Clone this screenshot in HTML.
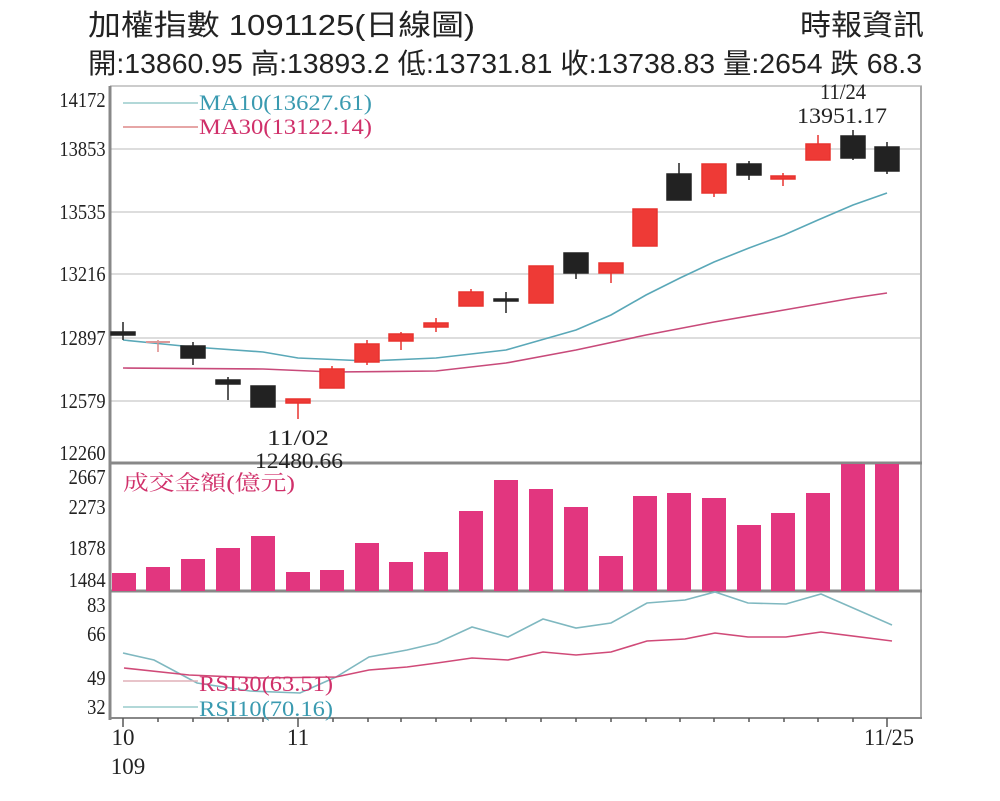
<!DOCTYPE html>
<html><head><meta charset="utf-8"><style>
body{margin:0;background:#fff}
svg{display:block}
</style></head><body>
<svg width="1000" height="801" viewBox="0 0 1000 801" xmlns="http://www.w3.org/2000/svg" font-family="'Liberation Serif','Noto Serif CJK SC',serif">
<rect width="1000" height="801" fill="#fff"/>
<g font-family="'Liberation Sans','Noto Sans CJK TC',sans-serif" fill="#222">
<text x="88" y="35" font-size="29" textLength="387" lengthAdjust="spacingAndGlyphs">加權指數 1091125(日線圖)</text>
<text x="800" y="35" font-size="29" textLength="124" lengthAdjust="spacingAndGlyphs">時報資訊</text>
<text x="88" y="73" font-size="28" textLength="834" lengthAdjust="spacingAndGlyphs">開:13860.95 高:13893.2 低:13731.81 收:13738.83 量:2654 跌 68.3</text>
</g>
<!-- grid -->
<g stroke="#ddd" stroke-width="2">
<line x1="110" y1="149" x2="920" y2="149"/>
<line x1="110" y1="212" x2="920" y2="212"/>
<line x1="110" y1="274" x2="920" y2="274"/>
<line x1="110" y1="338" x2="920" y2="338"/>
<line x1="110" y1="401" x2="920" y2="401"/>
</g>
<line x1="110" y1="86" x2="922" y2="86" stroke="#ccc" stroke-width="2"/>
<line x1="921" y1="86" x2="921" y2="718" stroke="#aaa" stroke-width="2"/>
<line x1="110" y1="463" x2="922" y2="463" stroke="#888" stroke-width="3"/>
<line x1="110" y1="591" x2="922" y2="591" stroke="#888" stroke-width="3"/>
<line x1="110" y1="718" x2="922" y2="718" stroke="#888" stroke-width="2"/>
<line x1="110" y1="86" x2="110" y2="720" stroke="#888" stroke-width="3"/>
<!-- y labels -->
<g font-size="21" fill="#222" text-anchor="end" font-family="'Liberation Serif',serif" transform="scale(0.88,1)">
<text x="120" y="107">14172</text><text x="120" y="156">13853</text><text x="120" y="219">13535</text>
<text x="120" y="281">13216</text><text x="120" y="345">12897</text><text x="120" y="408">12579</text>
<text x="120" y="460">12260</text>
<text x="120" y="484">2667</text><text x="120" y="514">2273</text><text x="120" y="555">1878</text><text x="120" y="587">1484</text>
<text x="120" y="612">83</text><text x="120" y="641">66</text><text x="120" y="685">49</text><text x="120" y="714">32</text>
</g>
<!-- legend -->
<line x1="123" y1="103" x2="198" y2="103" stroke="#9cc" stroke-width="1.5"/>
<text x="199" y="110" font-size="22" fill="#3a9ab0" textLength="173" lengthAdjust="spacingAndGlyphs">MA10(13627.61)</text>
<line x1="123" y1="127" x2="198" y2="127" stroke="#d88" stroke-width="1.5"/>
<text x="199" y="134" font-size="22" fill="#d0306a" textLength="173" lengthAdjust="spacingAndGlyphs">MA30(13122.14)</text>
<!-- MA lines -->
<polyline fill="none" stroke="#5aa8b8" stroke-width="1.6" points="123,340 193,347 263,352 298,358 368,361 436,358 506,350 576,330 611,315 646,295 680,278 714,262 749,248 784,235 818,220 853,205 887,193"/>
<polyline fill="none" stroke="#c84a7a" stroke-width="1.6" points="123,368 263,369 333,372 436,371 506,363 576,350 646,335 714,322 784,310 853,298 887,293"/>
<!-- candles -->
<g stroke-width="1.5">
<g stroke="#222" fill="#222">
<line x1="123" y1="322" x2="123" y2="340"/><rect x="111" y="332" width="24" height="3"/>
<line x1="193" y1="342" x2="193" y2="365"/><rect x="181" y="346" width="24" height="12"/>
<line x1="228" y1="377" x2="228" y2="400"/><rect x="216" y="380" width="24" height="4"/>
<rect x="251" y="386" width="24" height="21"/>
<line x1="506" y1="292" x2="506" y2="313"/><rect x="494" y="299" width="24" height="2"/>
<line x1="576" y1="253" x2="576" y2="279"/><rect x="564" y="253" width="24" height="20"/>
<line x1="679" y1="163" x2="679" y2="200"/><rect x="667" y="174" width="24" height="26"/>
<line x1="749" y1="161" x2="749" y2="180"/><rect x="737" y="164" width="24" height="11"/>
<line x1="853" y1="130" x2="853" y2="160"/><rect x="841" y="136" width="24" height="22"/>
<line x1="887" y1="142" x2="887" y2="174"/><rect x="875" y="147" width="24" height="24"/>
</g>
<g stroke="#e8332f" fill="#ee3a36">
<line x1="158" y1="340" x2="158" y2="352" stroke="#d88"/><rect x="146" y="341" width="24" height="2" fill="#d99" stroke="none"/>
<line x1="298" y1="399" x2="298" y2="419"/><rect x="286" y="399" width="24" height="4"/>
<line x1="332" y1="366" x2="332" y2="388"/><rect x="320" y="369" width="24" height="19"/>
<line x1="367" y1="340" x2="367" y2="365"/><rect x="355" y="344" width="24" height="18"/>
<line x1="401" y1="332" x2="401" y2="350"/><rect x="389" y="334" width="24" height="7"/>
<line x1="436" y1="318" x2="436" y2="332"/><rect x="424" y="323" width="24" height="4"/>
<line x1="471" y1="289" x2="471" y2="306"/><rect x="459" y="292" width="24" height="14"/>
<rect x="529" y="266" width="24" height="37"/>
<line x1="611" y1="263" x2="611" y2="283"/><rect x="599" y="263" width="24" height="10"/>
<rect x="633" y="209" width="24" height="37"/>
<line x1="714" y1="164" x2="714" y2="197"/><rect x="702" y="164" width="24" height="29"/>
<line x1="783" y1="173" x2="783" y2="186"/><rect x="771" y="176" width="24" height="3"/>
<line x1="818" y1="135" x2="818" y2="160"/><rect x="806" y="144" width="24" height="16"/>
</g>
</g>
<g font-size="22" fill="#222" text-anchor="middle">
<text x="298" y="445" textLength="62" lengthAdjust="spacingAndGlyphs">11/02</text><text x="299" y="468" textLength="88" lengthAdjust="spacingAndGlyphs">12480.66</text>
<text x="843" y="99" textLength="46" lengthAdjust="spacingAndGlyphs">11/24</text><text x="842" y="123" textLength="90" lengthAdjust="spacingAndGlyphs">13951.17</text>
</g>
<!-- volume -->
<text x="123" y="490" font-size="21" fill="#d0306a" font-family="'Liberation Serif','Noto Serif CJK TC',serif" textLength="172" lengthAdjust="spacingAndGlyphs">成交金額(億元)</text>
<g fill="#e2367f">
<rect x="112" y="573" width="24" height="18"/><rect x="146" y="567" width="24" height="24"/><rect x="181" y="559" width="24" height="32"/>
<rect x="216" y="548" width="24" height="43"/><rect x="251" y="536" width="24" height="55"/><rect x="286" y="572" width="24" height="19"/>
<rect x="320" y="570" width="24" height="21"/><rect x="355" y="543" width="24" height="48"/><rect x="389" y="562" width="24" height="29"/>
<rect x="424" y="552" width="24" height="39"/><rect x="459" y="511" width="24" height="80"/><rect x="494" y="480" width="24" height="111"/>
<rect x="529" y="489" width="24" height="102"/><rect x="564" y="507" width="24" height="84"/><rect x="599" y="556" width="24" height="35"/>
<rect x="633" y="496" width="24" height="95"/><rect x="667" y="493" width="24" height="98"/><rect x="702" y="498" width="24" height="93"/>
<rect x="737" y="525" width="24" height="66"/><rect x="771" y="513" width="24" height="78"/><rect x="806" y="493" width="24" height="98"/>
<rect x="841" y="464" width="24" height="127"/><rect x="875" y="464" width="24" height="127"/>
</g>
<!-- RSI -->
<polyline fill="none" stroke="#7fb8c0" stroke-width="1.6" points="123,653 154,660 197,683 250,691 300,693 336,677 369,657 407,650 437,643 472,627 508,637 543,619 576,628 611,623 647,603 685,600 715,592 748,603 786,604 821,594 892,625"/>
<polyline fill="none" stroke="#d04a78" stroke-width="1.6" points="124,668 189,675 260,678 336,677 369,670 407,667 437,663 472,658 508,660 543,652 576,655 611,652 647,641 685,639 715,633 748,637 786,637 821,632 892,641"/>
<line x1="123" y1="681" x2="198" y2="681" stroke="#e0b0b8" stroke-width="1.5"/>
<text x="199" y="691" font-size="22" fill="#d0306a" textLength="134" lengthAdjust="spacingAndGlyphs">RSI30(63.51)</text>
<line x1="123" y1="707" x2="198" y2="707" stroke="#9cc" stroke-width="1.5"/>
<text x="199" y="716" font-size="22" fill="#3a9ab0" textLength="134" lengthAdjust="spacingAndGlyphs">RSI10(70.16)</text>
<!-- x ticks -->
<g stroke="#555" stroke-width="1.5">
<line x1="123" y1="718" x2="123" y2="727"/><line x1="158" y1="718" x2="158" y2="722"/><line x1="193" y1="718" x2="193" y2="722"/><line x1="228" y1="718" x2="228" y2="722"/><line x1="263" y1="718" x2="263" y2="722"/><line x1="298" y1="718" x2="298" y2="727"/><line x1="333" y1="718" x2="333" y2="722"/><line x1="368" y1="718" x2="368" y2="722"/><line x1="401" y1="718" x2="401" y2="722"/><line x1="436" y1="718" x2="436" y2="722"/><line x1="471" y1="718" x2="471" y2="722"/><line x1="506" y1="718" x2="506" y2="722"/><line x1="541" y1="718" x2="541" y2="722"/><line x1="576" y1="718" x2="576" y2="722"/><line x1="611" y1="718" x2="611" y2="722"/><line x1="646" y1="718" x2="646" y2="722"/><line x1="680" y1="718" x2="680" y2="722"/><line x1="714" y1="718" x2="714" y2="722"/><line x1="749" y1="718" x2="749" y2="722"/><line x1="784" y1="718" x2="784" y2="722"/><line x1="818" y1="718" x2="818" y2="722"/><line x1="853" y1="718" x2="853" y2="722"/><line x1="887" y1="718" x2="887" y2="727"/>
</g>
<g font-size="23" fill="#222" text-anchor="middle">
<text x="123" y="745">10</text><text x="128" y="774">109</text>
<text x="298" y="745">11</text><text x="889" y="745" textLength="50" lengthAdjust="spacingAndGlyphs">11/25</text>
</g>
</svg>
</body></html>
